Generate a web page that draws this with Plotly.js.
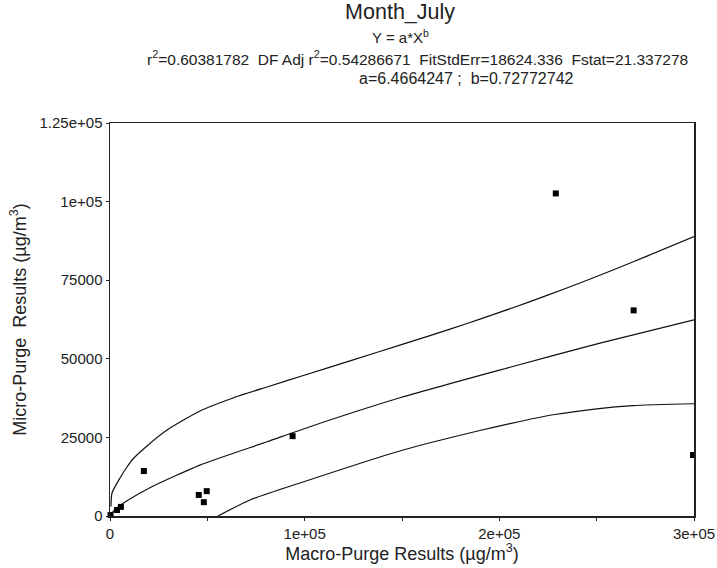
<!DOCTYPE html>
<html>
<head>
<meta charset="utf-8">
<script src="https://cdn.plot.ly/plotly-3.0.1.min.js"></script>
<style>html,body{margin:0;padding:0;background:#fff;}#chart{width:717px;height:568px;}</style>
</head>
<body>
<div id="chart"></div>
<script>
// Observed data points (Macro-Purge vs Micro-Purge, µg/m3)
const macroX = [300, 3600, 5600, 17400, 45600, 48200, 49700, 93800, 229000, 269000, 299500];
const microY = [300, 1900, 2900, 14300, 6700, 4400, 7900, 25400, 102600, 65400, 19400];

// Fitted curve Y = a*X^b
const fitX = [0, 1000, 3600, 10000, 20500, 46200, 80650, 102700, 149000, 205500, 251700, 300000];
const fitY = [0, 1000, 2600, 5300, 9000, 16200, 23600, 28400, 37600, 47300, 55000, 62400];

// Upper confidence band
const upperX = [500, 1030, 5140, 8730, 11810, 19000, 29280, 46230, 63180, 80650, 100170, 123290, 150510, 174660, 190070, 207020, 224490, 241440, 258390, 275860, 300000];
const upperY = [3000, 7320, 12090, 15590, 18130, 22270, 27350, 33400, 37540, 41030, 44850, 49350, 54650, 59440, 62620, 66250, 70160, 74120, 78250, 82670, 88900];

// Lower confidence band
const lowerX = [55500, 71900, 97600, 150500, 190000, 205500, 227600, 250000, 268700, 300000];
const lowerY = [0, 5100, 10500, 21000, 27200, 29400, 32200, 34100, 35100, 35700];

// Tick labels
const xTickVals = [0, 100000, 200000, 300000];
const xTickText = ['0', '1e+05', '2e+05', '3e+05'];
const yTickVals = [0, 25000, 50000, 75000, 100000, 125000];
const yTickText = ['0', '25000', '50000', '75000', '1e+05', '1.25e+05'];

const FONT = 'Liberation Sans, Arial, sans-serif';
const lineStyle = {color: '#111', width: 1.2, shape: 'spline', smoothing: 0.6};

const traces = [
  {x: upperX, y: upperY, mode: 'lines', line: lineStyle, hoverinfo: 'skip'},
  {x: fitX, y: fitY, mode: 'lines', line: lineStyle, hoverinfo: 'skip'},
  {x: lowerX, y: lowerY, mode: 'lines', line: lineStyle, hoverinfo: 'skip'},
  {x: macroX, y: microY, mode: 'markers', cliponaxis: false,
   marker: {symbol: 'square', size: 6, color: '#000'}}
];

const layout = {
  width: 717, height: 568,
  paper_bgcolor: '#fff', plot_bgcolor: '#fff',
  showlegend: false,
  margin: {l: 110, r: 23, t: 123, b: 52},
  font: {family: FONT, color: '#222', size: 16},
  title: {text: 'Month_July', font: {family: FONT, size: 21.5, color: '#222'},
          x: 0.558, xanchor: 'center', y: 0.979, yanchor: 'middle'},
  xaxis: {
    range: [0, 300000], showgrid: false, zeroline: false,
    showline: true, mirror: true, linecolor: '#222', linewidth: 1.5,
    ticks: 'outside', ticklen: 3, tickcolor: '#222',
    tickvals: xTickVals, ticktext: xTickText,
    minor: {tick0: 0, dtick: 50000, ticks: 'outside', ticklen: 3, tickcolor: '#222', showgrid: false},
    tickfont: {family: FONT, size: 15, color: '#222'},
    title: {text: 'Macro-Purge Results (µg/m<sup>3</sup>)', font: {family: FONT, size: 18, color: '#222'}, standoff: 2}
  },
  yaxis: {
    range: [0, 125000], showgrid: false, zeroline: false,
    showline: true, mirror: true, linecolor: '#222', linewidth: 1.5,
    ticks: 'outside', ticklen: 3, tickcolor: '#222',
    tickvals: yTickVals, ticktext: yTickText,
    tickfont: {family: FONT, size: 15, color: '#222'},
    title: {text: 'Micro-Purge  Results (µg/m<sup>3</sup>)', font: {family: FONT, size: 18, color: '#222'}, standoff: 8}
  },
  annotations: [
    {text: 'Y = a*X<sup>b</sup>', xref: 'paper', yref: 'paper', x: 0.497, y: 1.219, xanchor: 'center', yanchor: 'middle',
     showarrow: false, font: {family: FONT, size: 15, color: '#222'}},
    {text: 'r<sup>2</sup>=0.60381782 &nbsp;DF Adj r<sup>2</sup>=0.54286671 &nbsp;FitStdErr=18624.336 &nbsp;Fstat=21.337278',
     xref: 'paper', yref: 'paper', x: 0.526, y: 1.166, xanchor: 'center', yanchor: 'middle',
     showarrow: false, font: {family: FONT, size: 15.5, color: '#222'}},
    {text: 'a=6.4664247 ; &nbsp;b=0.72772742', xref: 'paper', yref: 'paper', x: 0.61, y: 1.112, xanchor: 'center', yanchor: 'middle',
     showarrow: false, font: {family: FONT, size: 16, color: '#222'}}
  ]
};

Plotly.newPlot('chart', traces, layout, {displayModeBar: false, staticPlot: true});
</script>
</body>
</html>
